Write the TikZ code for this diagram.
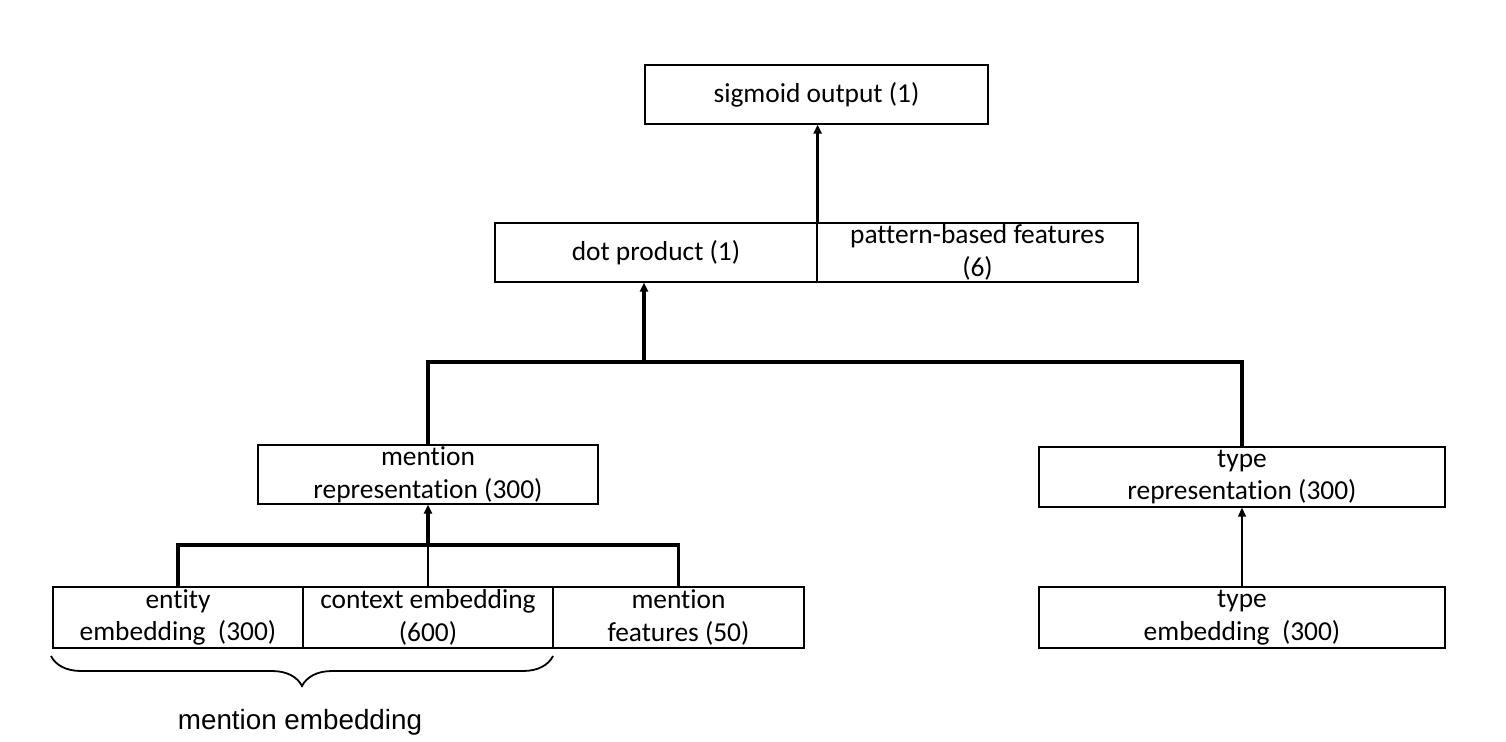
\documentclass[tikz,border=0pt]{standalone}
\usepackage{fontspec}
\setmainfont{Carlito}[Ligatures={NoCommon}]
\newfontfamily\labelfont{Liberation Sans}
\usetikzlibrary{arrows.meta,decorations.pathreplacing}

\tikzset{
	box/.style={draw,line width=0.65pt,inner sep=0pt,align=center,font=\fontsize{13.7}{16.3}\selectfont},
	wire/.style={line width=0.65pt},
	bus/.style={line width=1.6pt},
	up/.style={-{Triangle[length=4.5pt,width=4pt]}}
}

\begin{document}
\begin{tikzpicture}[x=0.5pt,y=-0.5pt]
			\useasboundingbox (0,0) rectangle (1506,741);
			% top of the network
			\draw (816.5,94.5) node [box,minimum width=171.5pt,minimum height=29.5pt] (sig) {sigmoid output (1)};
			\draw (656,252.5) node [box,minimum width=161pt,minimum height=29.5pt] (dot) {dot product (1)};
			\draw (977.5,252.5) node [box,minimum width=160.5pt,minimum height=29.5pt] (pat) {pattern-based features\\(6)};
			% representations
			\draw (428,474.5) node [box,minimum width=170pt,minimum height=29.5pt] (mrep) {mention\\representation (300)};
			\draw (1242,477) node [box,minimum width=203pt,minimum height=30pt] (trep) {type\\representation (300)};
			% embeddings
			\draw (178,617.5) node [box,minimum width=125pt,minimum height=30.5pt] (ent) {entity\\embedding\ \ (300)};
			\draw (428,617.5) node [box,minimum width=125pt,minimum height=30.5pt] (ctx) {context embedding\\(600)};
			\draw (678.5,617.5) node [box,minimum width=125.5pt,minimum height=30.5pt] (mfeat) {mention\\features (50)};
			\draw (1242,617.5) node [box,minimum width=203pt,minimum height=30.5pt] (temb) {type\\embedding\ \ (300)};
			% junctions and brace ends
			\coordinate (j1) at (644,362);
			\coordinate (j2) at (428,545);
			\coordinate (bl) at (51,656);
			\coordinate (br) at (553,656);
			\draw (300,722) node [font=\labelfont\fontsize{13.9}{16}\selectfont] (memb) {mention embedding};
			\draw [bus,up] (dot.north east) -- (dot.north east |- sig.south);
			\draw [bus] (mrep.north) |- (j1) -| (trep.north);
			\draw [bus,up] (j1) -- (dot.south -| j1);
			\draw [bus] (ent.north) |- (j2) -| (mfeat.north);
			\draw [wire] (ctx.north) -- (j2);
			\draw [bus,up] (j2) -- (mrep.south);
			\draw [wire,up] (temb.north) -- (trep.south);
			\draw [line width=0.9pt,decorate,decoration={brace,mirror,amplitude=15pt}] (bl) -- (br);
		\end{tikzpicture}
\end{document}
